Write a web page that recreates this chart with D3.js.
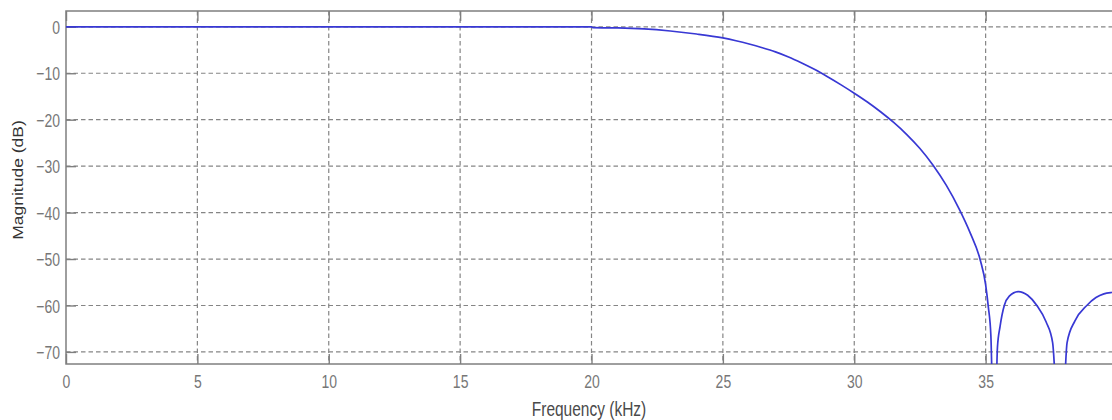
<!DOCTYPE html>
<html>
<head>
<meta charset="utf-8">
<script src="https://cdn.jsdelivr.net/npm/d3@7"></script>
<style>
  body { margin: 0; background: #fff; }
  svg { display: block; font-family: "Liberation Sans", Arial, sans-serif; }
</style>
</head>
<body>
<svg id="chart" width="1112" height="420"></svg>
<script>
// Filter response
const freqKHz = [0, 20, 20.05, 21, 22, 23, 24, 25, 25.5, 26, 26.5, 27, 27.5, 28, 28.5, 29, 29.5, 30,
  30.5, 31, 31.5, 32, 32.5, 33, 33.5, 34, 34.4, 34.8, 35.0, 35.1, 35.2, 35.33, 35.45, 35.55,
  35.71, 35.9, 36.25, 36.6, 36.95, 37.3, 37.55, 37.85, 38.1, 38.4, 38.85, 39.2, 39.5, 39.8, 40];
const magDB = [0, 0, -0.2, -0.25, -0.45, -0.9, -1.55, -2.4, -3.0, -3.7, -4.5, -5.4, -6.5, -7.8, -9.2, -10.8, -12.5, -14.3,
  -16.2, -18.3, -20.6, -23.2, -26.2, -29.8, -34.1, -39.3, -44.2, -50.3, -55.5, -60.2, -66.5, -95, -69, -64.5,
  -60, -58, -57, -57.8, -60, -63.5, -68, -95, -68, -63.3, -60, -58.3, -57.5, -57.2, -57.1];

const xTicks = [0, 5, 10, 15, 20, 25, 30, 35];
const yTicks = [0, -10, -20, -30, -40, -50, -60, -70];

const plotLeft = 66, plotTop = 11, plotBottom = 364, plotRight = 1117;
const stretch = 1.33; // picture is squashed horizontally

const svg = d3.select('#chart');

const x = d3.scaleLinear().domain([0, 40]).range([plotLeft, plotRight]);
const y = d3.scaleLinear().domain([-72.6, 3.4]).range([plotBottom, plotTop]);

svg.append('defs').append('clipPath').attr('id', 'plot')
  .append('rect')
  .attr('x', plotLeft).attr('y', plotTop)
  .attr('width', plotRight - plotLeft).attr('height', plotBottom - plotTop);

// dashed grid
const grid = svg.append('g')
  .attr('stroke', '#858585')
  .attr('stroke-width', 1.2)
  .attr('stroke-dasharray', '4.5,3');

grid.selectAll('line.v')
  .data(xTicks.filter((d) => d > 0))
  .join('line')
  .attr('class', 'v')
  .attr('x1', (d) => x(d)).attr('x2', (d) => x(d))
  .attr('y1', plotTop).attr('y2', plotBottom);

grid.selectAll('line.h')
  .data(yTicks)
  .join('line')
  .attr('class', 'h')
  .attr('x1', plotLeft).attr('x2', plotRight)
  .attr('y1', (d) => y(d)).attr('y2', (d) => y(d));

// axes with inward ticks
const xAxis = svg.append('g')
  .attr('transform', `translate(0,${plotBottom})`)
  .call(d3.axisBottom(x).tickValues(xTicks).tickSizeInner(-10).tickSizeOuter(0));

const xTop = svg.append('g')
  .attr('transform', `translate(0,${plotTop})`)
  .call(d3.axisTop(x).tickValues(xTicks).tickSizeInner(-10).tickSizeOuter(0).tickFormat(''));

const yAxis = svg.append('g')
  .attr('transform', `translate(${plotLeft},0)`)
  .call(d3.axisLeft(y).tickValues(yTicks).tickSizeInner(-10).tickSizeOuter(0));

[xAxis, xTop, yAxis].forEach((g) => {
  g.select('.domain').remove();
  g.selectAll('.tick line').attr('stroke', '#7f7f7f').attr('stroke-width', 1.4);
});

xAxis.selectAll('text')
  .attr('y', null).attr('dy', null)
  .attr('transform', `translate(0,24) scale(1,${stretch})`)
  .attr('fill', '#777')
  .attr('font-size', 14);

yAxis.selectAll('text')
  .attr('x', null).attr('dy', '0.36em')
  .attr('transform', `translate(-6,0) scale(1,${stretch})`)
  .attr('fill', '#777')
  .attr('font-size', 14);

// frame
svg.append('rect')
  .attr('x', plotLeft).attr('y', plotTop)
  .attr('width', plotRight - plotLeft).attr('height', plotBottom - plotTop)
  .attr('fill', 'none')
  .attr('stroke', '#7f7f7f')
  .attr('stroke-width', 1.5);

// response curve
const line = d3.line()
  .x((d, i) => x(freqKHz[i]))
  .y((d) => y(d))
  .curve(d3.curveMonotoneX);

svg.append('path')
  .datum(magDB)
  .attr('clip-path', 'url(#plot)')
  .attr('d', line)
  .attr('fill', 'none')
  .attr('stroke', '#3838d4')
  .attr('stroke-width', 1.7);

// axis labels
svg.append('text')
  .attr('transform', `translate(589,416) scale(1,${stretch})`)
  .attr('text-anchor', 'middle')
  .attr('font-size', 15.5)
  .attr('fill', '#4a4a4a')
  .text('Frequency (kHz)');

svg.append('text')
  .attr('transform', `translate(23,180) rotate(-90) scale(1.25,1)`)
  .attr('text-anchor', 'middle')
  .attr('font-size', 14)
  .attr('fill', '#333')
  .text('Magnitude (dB)');
</script>
</body>
</html>
